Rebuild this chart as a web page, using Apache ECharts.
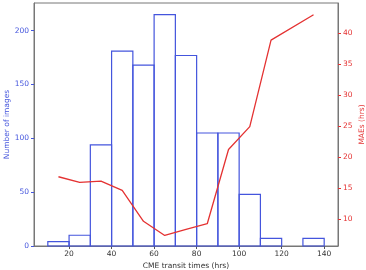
<!DOCTYPE html>
<html>
<head>
<meta charset="utf-8">
<script src="https://cdn.jsdelivr.net/npm/echarts@6/dist/echarts.min.js"></script>
<style>
  html, body { margin: 0; padding: 0; background: #fff; }
  #chart { width: 366px; height: 270px; }
</style>
</head>
<body>
<div id="chart"></div>
<script>
// histogram bins (hrs) and counts
var binEdges = [10, 20, 30, 40, 50, 60, 70, 80, 90, 100, 110, 120, 130, 140];
var binCounts = [4, 10, 94, 181, 168, 215, 177, 105, 105, 48, 7, 0, 7];

// MAE line, at bin centres
var maeX = [15, 25, 35, 45, 55, 65, 75, 85, 95, 105, 115, 135];
var maeY = [16.8, 15.9, 16.1, 14.6, 9.6, 7.3, 8.3, 9.2, 21.2, 24.9, 38.9, 43.0];

var xTicks = [20, 40, 60, 80, 100, 120, 140];
var countTicks = [0, 50, 100, 150, 200];
var maeTicks = [10, 15, 20, 25, 30, 35, 40];

var blue = "#4455dd";
var red = "#e43232";

var histData = [];
for (var i = 0; i < binCounts.length; i++) {
    if (binCounts[i] > 0) histData.push([binEdges[i], binEdges[i + 1], binCounts[i]]);
}
var lineData = maeX.map(function (x, i) { return [x, maeY[i]]; });

var chart = echarts.init(document.getElementById("chart"));
var option = {
    animation: false,
    grid: {
        left: 34, right: 28, top: 3, bottom: 24,
        outerBoundsMode: "none",
        containLabel: false,
        show: true, borderColor: "#777", borderWidth: 1
    },
    xAxis: {
        type: "value",
        min: 3.5, max: 146.5,
        name: "CME transit times (hrs)",
        nameLocation: "middle",
        nameMoveOverlap: false,
        nameGap: 16,
        nameTextStyle: { color: "#333", fontSize: 7.5, fontFamily: "DejaVu Sans" },
        splitLine: { show: false },
        axisLine: { show: true, lineStyle: { color: "#777" } },
        axisTick: { show: true, length: 3, customValues: xTicks, lineStyle: { color: "#555" } },
        axisLabel: { customValues: xTicks, color: "#333", fontSize: 7.5, fontFamily: "DejaVu Sans", margin: 4 }
    },
    yAxis: [
        {
            type: "value",
            min: 0, max: 225.75,
            name: "Number of images",
            nameLocation: "middle",
            nameMoveOverlap: false,
            nameRotate: 90,
            nameGap: 23,
            nameTextStyle: { color: blue, fontSize: 7.5, fontFamily: "DejaVu Sans" },
            splitLine: { show: false },
            axisLine: { show: true, lineStyle: { color: "#777" } },
            axisTick: { show: true, length: 3, customValues: countTicks, lineStyle: { color: blue } },
            axisLabel: { customValues: countTicks, color: blue, fontSize: 7.5, fontFamily: "DejaVu Sans", margin: 5 }
        },
        {
            type: "value",
            position: "right",
            min: 5.6, max: 44.9,
            name: "MAEs (hrs)",
            nameLocation: "middle",
            nameMoveOverlap: false,
            nameRotate: 90,
            nameGap: 20,
            nameTextStyle: { color: red, fontSize: 7.5, fontFamily: "DejaVu Sans" },
            splitLine: { show: false },
            axisLine: { show: true, lineStyle: { color: "#777" } },
            axisTick: { show: true, length: 3, customValues: maeTicks, lineStyle: { color: red } },
            axisLabel: { customValues: maeTicks, color: red, fontSize: 7.5, fontFamily: "DejaVu Sans", margin: 5 }
        }
    ],
    series: [
        {
            type: "custom",
            yAxisIndex: 0,
            data: histData,
            renderItem: function (params, api) {
                var p0 = api.coord([api.value(0), api.value(2)]);
                var p1 = api.coord([api.value(1), 0]);
                return {
                    type: "rect",
                    shape: { x: p0[0], y: p0[1], width: p1[0] - p0[0], height: p1[1] - p0[1] },
                    style: { fill: "none", stroke: blue, lineWidth: 1.2 }
                };
            }
        },
        {
            type: "line",
            yAxisIndex: 1,
            data: lineData,
            showSymbol: false,
            lineStyle: { color: red, width: 1.3 }
        }
    ]
};
chart.setOption(option);
</script>
</body>
</html>
